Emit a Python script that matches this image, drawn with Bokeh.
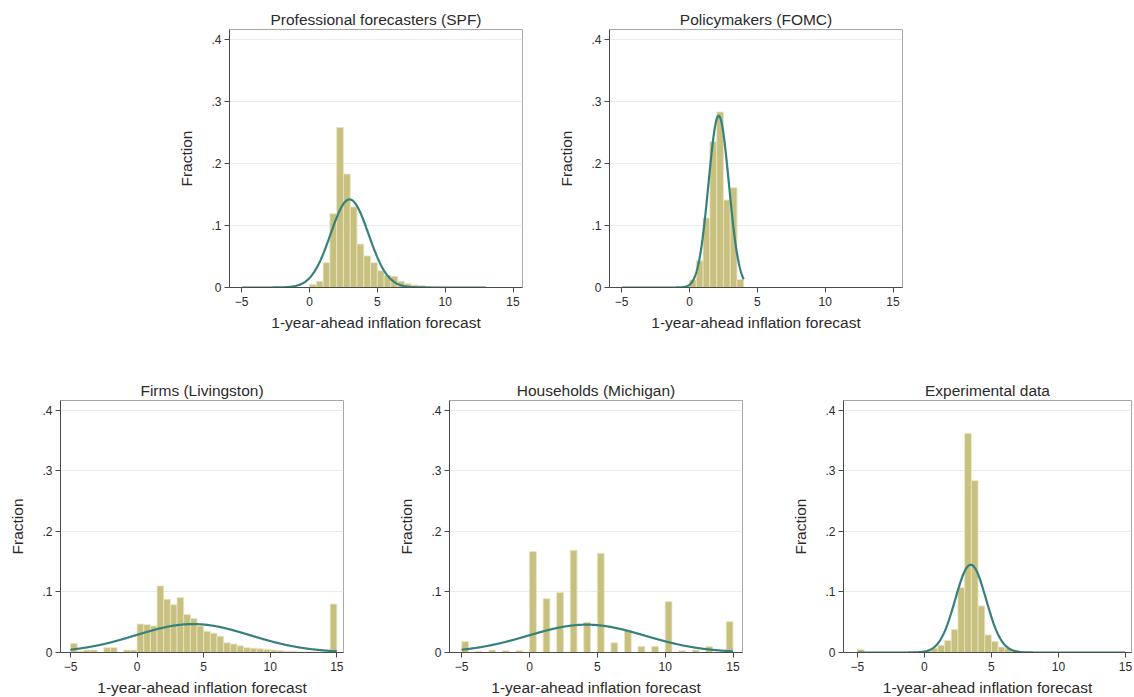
import numpy as np
from bokeh.plotting import figure
from bokeh.models import FixedTicker, CustomJSTickFormatter, Spacer, Range1d
from bokeh.layouts import row, column
from bokeh.embed import file_html
from bokeh.resources import INLINE

# ---------------- data ----------------
titles = ["Professional forecasters (SPF)", "Policymakers (FOMC)",
          "Firms (Livingston)", "Households (Michigan)", "Experimental data"]
x_label = "1-year-ahead inflation forecast"
y_label = "Fraction"
x_ticks = [-5, 0, 5, 10, 15]
y_ticks = [0, 0.1, 0.2, 0.3, 0.4]
bin_width = 0.5

spf_bin_start = [0.0, 0.5, 1.0, 1.5, 2.0, 2.5, 3.0, 3.5, 4.0, 4.5,
                 5.0, 5.5, 6.0, 6.5, 7.0, 7.5, 8.0, 8.5, 9.0, 9.5]
spf_fraction = [0.005, 0.010, 0.040, 0.119, 0.258, 0.183, 0.130, 0.070, 0.051, 0.040,
                0.027, 0.020, 0.018, 0.010, 0.006, 0.004, 0.003, 0.002, 0.001, 0.001]

fomc_bin_start = [-0.5, 0.0, 0.5, 1.0, 1.5, 2.0, 2.5, 3.0, 3.5]
fomc_fraction = [0.002, 0.012, 0.043, 0.112, 0.235, 0.283, 0.141, 0.161, 0.013]

firms_bin_start = [-5.0, -4.5, -4.0, -3.5, -3.0, -2.5, -2.0, -1.5, -1.0, -0.5,
                   0.0, 0.5, 1.0, 1.5, 2.0, 2.5, 3.0, 3.5, 4.0, 4.5,
                   5.0, 5.5, 6.0, 6.5, 7.0, 7.5, 8.0, 8.5, 9.0, 9.5,
                   10.0, 10.5, 11.0, 11.5, 12.0, 12.5, 13.0, 13.5, 14.0, 14.5]
firms_fraction = [0.015, 0.002, 0.004, 0.004, 0.000, 0.008, 0.008, 0.000, 0.004, 0.004,
                  0.047, 0.046, 0.044, 0.110, 0.088, 0.079, 0.091, 0.063, 0.056, 0.044,
                  0.035, 0.032, 0.027, 0.016, 0.014, 0.011, 0.008, 0.007, 0.006, 0.005,
                  0.004, 0.003, 0.002, 0.002, 0.001, 0.001, 0.001, 0.001, 0.001, 0.080]

households_bin_start = [-5.0, -4.0, -3.0, -2.0, -1.0, 0.0, 1.0, 2.0, 3.0, 4.0,
                        5.0, 6.0, 7.0, 8.0, 9.0, 10.0, 11.0, 12.0, 13.0, 14.5]
households_fraction = [0.018, 0.002, 0.004, 0.003, 0.003, 0.167, 0.089, 0.099, 0.169, 0.050,
                       0.164, 0.016, 0.037, 0.010, 0.010, 0.084, 0.003, 0.004, 0.010, 0.051]

experiment_bin_start = [-5.0, 0.0, 0.5, 1.0, 1.5, 2.0, 2.5, 3.0, 3.5, 4.0,
                        4.5, 5.0, 5.5, 6.0, 6.5, 7.0]
experiment_fraction = [0.005, 0.003, 0.007, 0.012, 0.020, 0.038, 0.107, 0.362, 0.284, 0.077,
                       0.029, 0.018, 0.009, 0.007, 0.004, 0.002]

# fitted normal overlay: mean, sd, peak height, drawn range
normal_mean = [2.95, 2.15, 4.2, 4.2, 3.45]
normal_sd = [1.40, 0.75, 4.3, 4.3, 1.15]
normal_peak = [0.142, 0.277, 0.047, 0.046, 0.145]
normal_from = [-5, -5, -5, -5, -5]
normal_to = [13, 4, 15, 15, 15]

bin_starts = [spf_bin_start, fomc_bin_start, firms_bin_start,
              households_bin_start, experiment_bin_start]
fractions = [spf_fraction, fomc_fraction, firms_fraction,
             households_fraction, experiment_fraction]

# ---------------- style ----------------
FONT = "Liberation Sans"
BAR = "#c8c07e"
BAR_EDGE = "#e8e5c8"
CURVE = "#36807b"
GRID = "#e3eeee"
AXIS = "#4a4a4a"
TEXT = "#2b2b2b"

fmt = CustomJSTickFormatter(code="""
if (tick == 0) { return '0'; }
return tick.toFixed(1).replace(/^0/, '');
""")


def panel(i, fw, fh, xr, bl, br, bt, bb, ytop):
    p = figure(frame_width=fw, frame_height=fh,
               x_range=Range1d(*xr), y_range=Range1d(0, ytop),
               output_backend="svg", toolbar_location=None,
               min_border_left=bl, min_border_right=br,
               min_border_top=bt, min_border_bottom=bb,
               title=titles[i], background_fill_color="white",
               border_fill_color="white")
    p.outline_line_color = "#a8a8a8"
    p.outline_line_width = 1

    starts = bin_starts[i]
    ends = [s + bin_width for s in starts]
    p.quad(left=starts, right=ends, bottom=0, top=fractions[i],
           fill_color=BAR, line_color=BAR_EDGE, line_width=0.8)

    xs = np.linspace(normal_from[i], normal_to[i], 400)
    ys = normal_peak[i] * np.exp(-0.5 * ((xs - normal_mean[i]) / normal_sd[i]) ** 2)
    p.line(xs, ys, line_color=CURVE, line_width=2.2)

    p.title.text_font = FONT
    p.title.text_font_size = "15.5px"
    p.title.text_font_style = "normal"
    p.title.text_color = TEXT
    p.title.align = "center"
    p.title.standoff = 3

    p.xgrid.visible = False
    p.ygrid.ticker = FixedTicker(ticks=[0.1, 0.2, 0.3, 0.4])
    p.ygrid.grid_line_color = GRID
    p.ygrid.grid_line_width = 1

    for ax in (p.xaxis[0], p.yaxis[0]):
        ax.axis_line_color = AXIS
        ax.major_tick_line_color = AXIS
        ax.major_tick_out = 5
        ax.major_tick_in = 0
        ax.minor_tick_line_color = None
        ax.major_label_text_font = FONT
        ax.major_label_text_font_size = "12px"
        ax.major_label_text_color = TEXT
        ax.axis_label_text_font = FONT
        ax.axis_label_text_font_size = "15.5px"
        ax.axis_label_text_font_style = "normal"
        ax.axis_label_text_color = TEXT

    p.xaxis.ticker = FixedTicker(ticks=x_ticks)
    p.xaxis.axis_label = x_label
    p.xaxis.major_label_standoff = 4
    p.xaxis.axis_label_standoff = 5

    p.yaxis.ticker = FixedTicker(ticks=y_ticks)
    p.yaxis.formatter = fmt
    p.yaxis.axis_label = y_label
    p.yaxis.major_label_standoff = 3
    p.yaxis.axis_label_standoff = 13
    return p


TOP_Y = 0.4161
BOT_Y = 0.4165
p1 = panel(0, 293, 258, (-5.9, 15.7), 66, 15, 29, 55, TOP_Y)
p2 = panel(1, 293, 258, (-5.9, 15.7), 72, 10, 29, 55, TOP_Y)
p3 = panel(2, 283, 252, (-5.75, 15.5), 60, 36, 21, 45, BOT_Y)
p4 = panel(3, 293, 252, (-5.9, 15.7), 70, 31, 21, 45, BOT_Y)
p5 = panel(4, 288, 252, (-6.04, 15.45), 70, 2, 21, 45, BOT_Y)

layout = column(
    row(Spacer(width=163, height=10), p1, p2),
    Spacer(height=36),
    row(p3, p4, p5),
)

open("out.html", "w").write(file_html(layout, INLINE))
